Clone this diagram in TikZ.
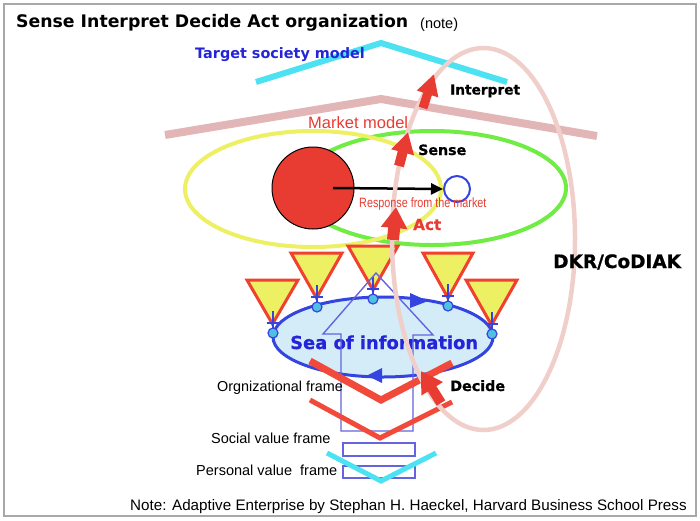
\documentclass[tikz,border=0pt]{standalone}
\usepackage{fontspec}
\setmainfont{Liberation Sans}
\newfontfamily\heavy{DejaVu Sans}
\newfontfamily\heavier{DejaVu Sans Bold}[FakeBold=0.8]
\usetikzlibrary{arrows.meta}
\definecolor{framegray}{HTML}{A8A8A8}
\definecolor{ylw}{HTML}{EEF064}
\definecolor{grn}{HTML}{70EC44}
\definecolor{redc}{HTML}{E83C32}
\definecolor{pinkroof}{HTML}{E2B6B6}
\definecolor{pinkell}{HTML}{F0CFCA}
\definecolor{cyanc}{HTML}{4CE2F2}
\definecolor{bluec}{HTML}{3444E0}
\definecolor{bluetxt}{HTML}{2424D8}
\definecolor{seafill}{HTML}{D4ECF8}
\definecolor{trired}{HTML}{F04030}
\definecolor{dotc}{HTML}{50C0E0}
\definecolor{outl}{HTML}{6464E0}
\definecolor{vred}{HTML}{F24A3A}
\newcommand\fsz[1]{\fontsize{#1}{#1}\selectfont}
\begin{document}
\begin{tikzpicture}[x=1pt,y=-1pt,
  lbl/.style={inner sep=0pt, anchor=base west},
  hv/.style={font=\heavy\bfseries\fsz{#1}},
  hvv/.style={font=\heavier\fsz{#1}},
  rg/.style={font=\fsz{#1}},
  redarr/.style 2 args={draw=redc, line width=#1, -{Triangle[width=#2,length=21pt]}},
  tri/.style={fill=ylw, draw=trired, line width=3pt, line join=miter},
  crossln/.style={draw=bluec, line width=2.5pt},
  dotnode/.style={circle, inner sep=0pt, minimum size=10pt, fill=dotc, draw=bluec, line width=1.2pt},
  outline/.style={draw=outl, line width=1.4pt},
  vline/.style={draw=vred, line join=miter},
]
\useasboundingbox (0,0) rectangle (700,520);
\draw[framegray, line width=2pt] (4,4) rectangle (696,516);

% title
\node[lbl, hv=17.3] (title) at (16,27) {Sense Interpret Decide Act organization};
\node[lbl, rg=14.5] (note) at (420,28.5) {(note)};

% market ellipses
\draw[grn, line width=4pt] (432,188) ellipse [x radius=134, y radius=57];
\draw[ylw, line width=4pt] (313,189) ellipse [x radius=128, y radius=58];

% roofs
\draw[pinkroof, line width=8pt, line join=miter] (165,135) -- (381,99) -- (597,136);
\draw[cyanc, line width=6pt, line join=miter] (256,82) -- (381,43) -- (507,82);

% market actor and response
\node[circle, fill=redc, draw=black, line width=1pt, minimum size=82pt, inner sep=0pt] (actor) at (313,188) {};
\node[circle, fill=white, draw=bluec, line width=2pt, minimum size=26pt, inner sep=0pt] (market) at (457,189) {};
\coordinate (respstart) at (333,188);
\draw[black, line width=2.5pt, -{Triangle[width=11pt,length=12pt]}] (respstart) -- (market.west);

% sea of information
\draw[fill=seafill, draw=bluec, line width=3pt] (383,337) ellipse [x radius=110, y radius=40];
\fill[bluec] (410,293) -- (428,301) -- (410,308) -- cycle;
\fill[bluec] (382,368) -- (367,375.5) -- (382,383) -- cycle;
\node[lbl, hvv=17.9, text=bluetxt] (sea) at (290,349) {Sea of information};

% triangles
\path[tri] (247,280) -- (298,280) -- (272.5,324) -- cycle;
\path[tri] (291,253) -- (342,253) -- (316.5,298) -- cycle;
\path[tri] (348,246) -- (398,246) -- (373,290) -- cycle;
\path[tri] (423,253) -- (473,253) -- (448,298) -- cycle;
\path[tri] (466,280) -- (517,280) -- (491.5,325) -- cycle;

% crosses and dots
\foreach \cx/\cy [count=\i] in {273/333, 317/307, 373/299, 448/306, 492/334} {
  \draw[crossln] (\cx,\cy-22) -- (\cx,\cy-5);
  \draw[crossln] (\cx-6,\cy-10) -- (\cx+6,\cy-10);
  \node[dotnode] (dot\i) at (\cx,\cy) {};
}

% outline arrow
\draw[outline, line join=miter] (341,431) -- (341,334) -- (323,334) -- (376,273) -- (433,335) -- (413,335) -- (413,431) -- cycle;
\draw[outline] (343,443) rectangle (415,456);
\draw[outline] (343,466) rectangle (415,478);

% frames
\draw[vline, line width=7pt] (310,361) -- (381,400) -- (452,363);
\draw[vline, line width=5pt] (310,400) -- (380,438) -- (452,402);
\draw[cyanc, line width=5pt, line join=miter] (327,453) -- (381,481) -- (436,453);

% DKR ellipse
\draw[pinkell, line width=4.5pt] (483.5,239) ellipse [x radius=91.5, y radius=191];

% red block arrows
\coordinate (actS) at (393,240);   \coordinate (actT) at (396,207);
\coordinate (senS) at (399,166);   \coordinate (senT) at (408,132);
\coordinate (intS) at (423,108);   \coordinate (intT) at (434,74);
\coordinate (decS) at (441,403);   \coordinate (decT) at (421,371);
\draw[redarr={12pt}{25pt}] (actS) -- (actT);
\draw[redarr={10pt}{22pt}] (senS) -- (senT);
\draw[redarr={9pt}{21pt}] (intS) -- (intT);
\draw[redarr={10pt}{24pt}] (decS) -- (decT);

% labels
\node[lbl, hv=14.4, text=bluetxt] (target) at (195,58) {Target society model};
\node[lbl, rg=16.5, text=redc] (mmodel) at (308,128) {Market model};
\node[lbl, rg=13.5, text=redc] (resp) at (359,207) {\scalebox{0.8}[1]{Response from the market}};
\node[lbl, hvv=13.7] (interp) at (450,94.5) {Interpret};
\node[lbl, hvv=14.2] (sense) at (418,155) {Sense};
\node[lbl, hvv=15.2, text=redc] (act) at (413,230) {Act};
\node[lbl, hvv=14.3] (decide) at (450,391) {Decide};
\node[lbl, hvv=18.5] (dkr) at (553,268) {DKR/CoDIAK};
\node[lbl, rg=14.4] (org) at (217,391.5) {Orgnizational frame};
\node[lbl, rg=14.5] (social) at (211,443.5) {Social value frame};
\node[lbl, rg=14.5] (personal) at (196,475) {Personal value\ \ frame};
\node[lbl, rg=15.2] (source) at (130,510) {Note: Adaptive Enterprise by Stephan H. Haeckel, Harvard Business School Press};
\end{tikzpicture}
\end{document}
